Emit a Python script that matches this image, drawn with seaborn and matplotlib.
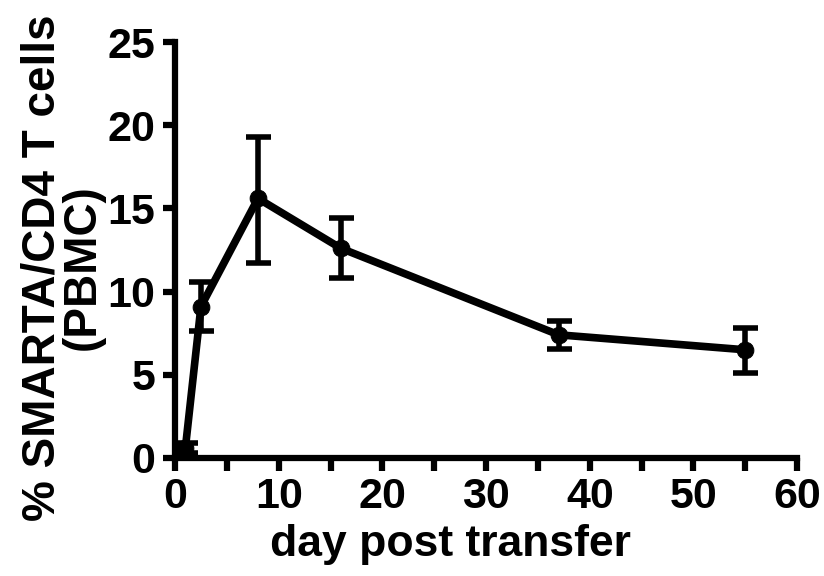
import matplotlib
matplotlib.use("Agg")
import matplotlib.pyplot as plt
from matplotlib.ticker import MultipleLocator
import seaborn as sns

# values
days = [1, 2.5, 8, 16, 37, 55]
pct_smarta = [0.6, 9.1, 15.6, 12.6, 7.4, 6.5]
err_up = [0.3, 1.5, 3.7, 1.8, 0.85, 1.3]
err_down = [0.3, 1.5, 3.9, 1.8, 0.85, 1.4]

sns.set_style("ticks")
plt.rcParams['font.family'] = ['Liberation Sans', 'DejaVu Sans']
plt.rcParams['text.color'] = 'black'
plt.rcParams['axes.labelcolor'] = 'black'
plt.rcParams['xtick.color'] = 'black'
plt.rcParams['ytick.color'] = 'black'

fig = plt.figure(figsize=(8.24, 5.76), dpi=100)
ax = fig.add_axes([0.2124, 0.205, 0.755, 0.722])

# errorbars first, line on top
ax.errorbar(days, pct_smarta, yerr=[err_down, err_up], fmt='none',
            ecolor='black', elinewidth=4, capsize=9, capthick=4, zorder=2)
sns.lineplot(x=days, y=pct_smarta, ax=ax, color='black', linewidth=5.5,
             marker='o', markersize=12, markeredgecolor='black', zorder=3)

ax.set_xlim(0, 60)
ax.set_ylim(0, 25)
ax.xaxis.set_major_locator(MultipleLocator(10))
ax.xaxis.set_minor_locator(MultipleLocator(5))
ax.yaxis.set_major_locator(MultipleLocator(5))

sns.despine(ax=ax)
for s in ['left', 'bottom']:
    ax.spines[s].set_linewidth(4.5)
    ax.spines[s].set_color('black')

ax.tick_params(axis='both', which='both', length=9, width=4.5, color='black',
               direction='out', pad=5)
ax.tick_params(axis='both', labelsize=31)
for lab in ax.get_xticklabels() + ax.get_yticklabels():
    lab.set_fontweight('bold')

ax.set_xlabel('day post transfer', fontsize=32, fontweight='bold')
ax.set_ylabel('% SMARTA/CD4 T cells\n(PBMC)', fontsize=33, fontweight='bold',
              linespacing=0.9)
ax.xaxis.set_label_coords(0.442, -0.16)
ax.yaxis.set_label_coords(-0.113, 0.458)

fig.savefig('out.png', dpi=100, facecolor='white')
